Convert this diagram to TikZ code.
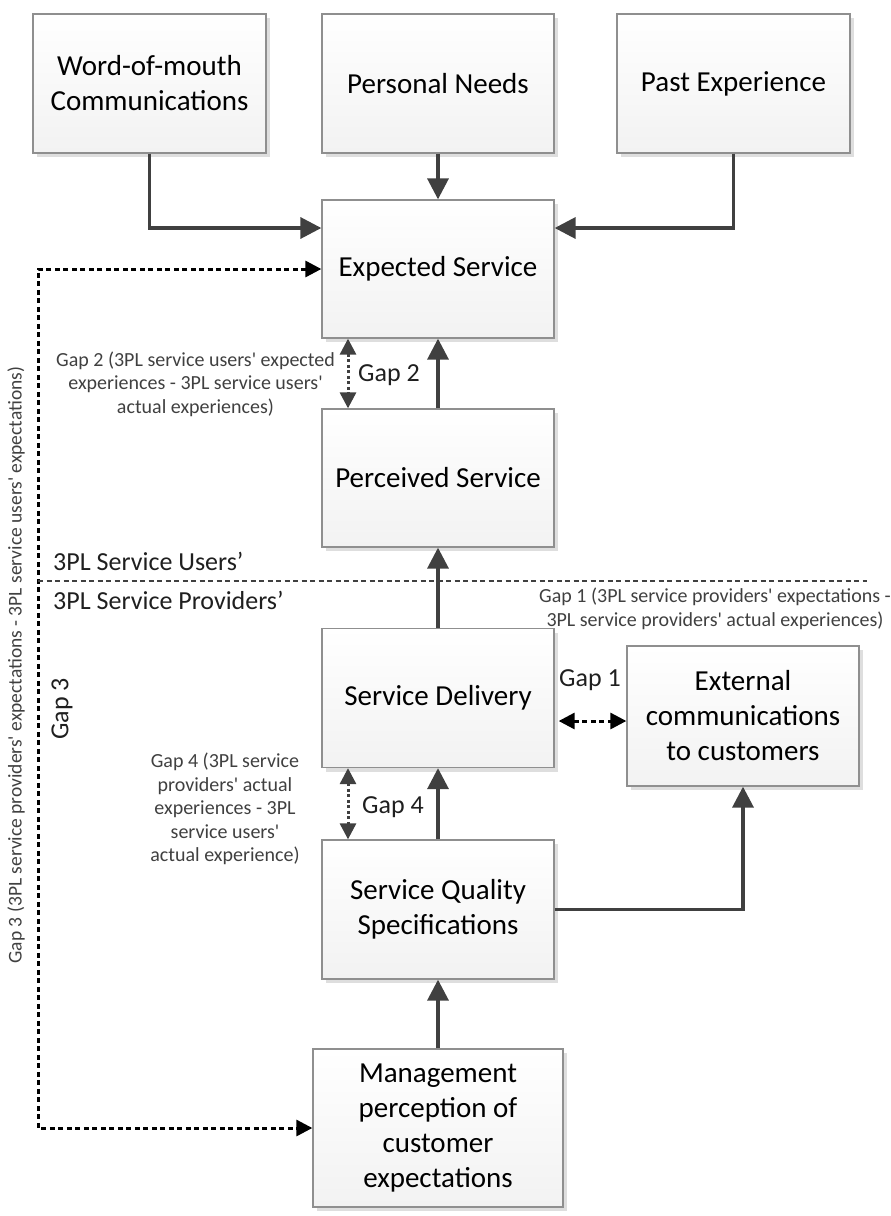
\documentclass[tikz,border=0pt]{standalone}
\usepackage{fontspec}
\setmainfont{Carlito}
\usetikzlibrary{arrows.meta,shadows,calc}
\definecolor{boxborder}{HTML}{8F8F8F}
\definecolor{boxbottom}{HTML}{F2F2F2}
\definecolor{shadowgray}{HTML}{DEDEDE}
\definecolor{arrowgray}{HTML}{404040}
\definecolor{notegray}{HTML}{404040}
\newcommand{\sq}{\textquotesingle}
\begin{document}
\begin{tikzpicture}[x=1pt,y=-1pt,
  box/.style={draw=boxborder, line width=1.3pt, top color=white, bottom color=boxbottom,
    minimum width=232pt, minimum height=139pt, align=center, inner sep=2pt,
    font=\fontsize{29}{35}\selectfont, text=black,
    drop shadow={shadow xshift=4pt, shadow yshift=-4pt, fill=shadowgray, opacity=1}},
  flow/.style={draw=arrowgray, line width=3.5pt, -{Triangle[length=21pt,width=21pt]}},
  gapdot/.style={draw=arrowgray, line width=3pt, dash pattern=on 3pt off 2.5pt,
    {Triangle[length=16pt,width=16pt]}-{Triangle[length=16pt,width=16pt]}},
  gapdash/.style={draw=black, line width=3pt, dash pattern=on 5pt off 3.5pt,
    {Triangle[length=16pt,width=16pt]}-{Triangle[length=16pt,width=16pt]}},
  sepline/.style={draw=arrowgray, line width=1.8pt, dash pattern=on 5pt off 3.5pt},
  note/.style={align=center, text=notegray, font=\fontsize{20}{23.5}\selectfont, inner sep=0pt},
  mid/.style={text=black!88, font=\fontsize{26}{30}\selectfont, inner sep=0pt},
]
\useasboundingbox (0,0) rectangle (891,1216);

% boxes
\node[box, minimum width=233pt] (wom) at (149.5,83.5) {Word-of-mouth\\Communications};
\node[box] (pn) at (438,83.5) {Personal Needs};
\node[box, minimum width=233pt] (pe) at (733.5,83.5) {Past Experience};
\node[box, minimum height=138pt] (es) at (438,269) {Expected Service};
\node[box, minimum height=138pt] (ps) at (438,478) {Perceived Service};
\node[box] (sd) at (438,698) {Service Delivery};
\node[box, minimum height=140pt] (ext) at (743,716) {External\\communications\\to customers};
\node[box] (sqs) at (438,909.5) {Service Quality\\Specifications};
\node[box, minimum width=250pt, minimum height=158pt] (mgmt) at (438,1128) {Management\\perception of\\customer\\expectations};

% solid flows
\draw[flow] (wom.south) |- ([yshift=41pt]es.west);
\draw[flow] (pe.south) |- ([yshift=41pt]es.east);
\draw[flow] (pn.south) -- (es.north);
\draw[flow] (ps.north) -- (es.south);
\draw[flow] (sd.north) -- (ps.south);
\draw[flow] (sqs.north) -- (sd.south);
\draw[flow] (mgmt.north) -- (sqs.south);
\draw[flow] (sqs.east) -| (ext.south);

% gap 2 and gap 4
\draw[gapdot] ([xshift=-90pt]es.south) -- ([xshift=-90pt]ps.north);
\draw[gapdot] ([xshift=-90pt]sd.south) -- ([xshift=-90pt]sqs.north);

% gap 1
\coordinate (g1a) at ([yshift=-23pt]sd.east);
\draw[gapdash, shorten <=4pt] (g1a) -- (ext.west |- g1a);

% gap 3
\coordinate (g3top) at (38,269);
\coordinate (g3bot) at (38,1128);
\draw[gapdash] (es.west) -- (g3top) -- (g3bot) -- (mgmt.west);

% separator
\coordinate (sepL) at (38,581);
\coordinate (sepR) at (867,581);
\draw[sepline] (sepL) -- (sepR);

% labels
\node[mid, anchor=west] (users) at (53,561) {3PL Service Users’};
\node[mid, anchor=west] (providers) at (53,600) {3PL Service Providers’};
\node[mid] (gap2lab) at (389,375) {Gap 2};
\node[mid] (gap4lab) at (393,807) {Gap 4};
\node[mid] (gap1lab) at (590,680) {Gap 1};
\node[mid, rotate=90] (gap3lab) at (62,709) {Gap 3};

\node[note] (gap2note) at (195.5,384) {Gap 2 (3PL service users\sq{} expected\\experiences - 3PL service users\sq\\actual experiences)};
\node[note] (gap4note) at (225,809) {Gap 4 (3PL service\\providers\sq{} actual\\experiences - 3PL\\service users\sq\\actual experience)};
\node[note] (gap1note) at (715,609) {Gap 1 (3PL service providers\sq{} expectations -\\3PL service providers\sq{} actual experiences)};
\node[note, rotate=90, font=\fontsize{19.5}{23}\selectfont] (gap3note) at (16,665) {Gap 3 (3PL service providers\sq{} expectations - 3PL service users\sq{} expectations)};
\end{tikzpicture}
\end{document}
